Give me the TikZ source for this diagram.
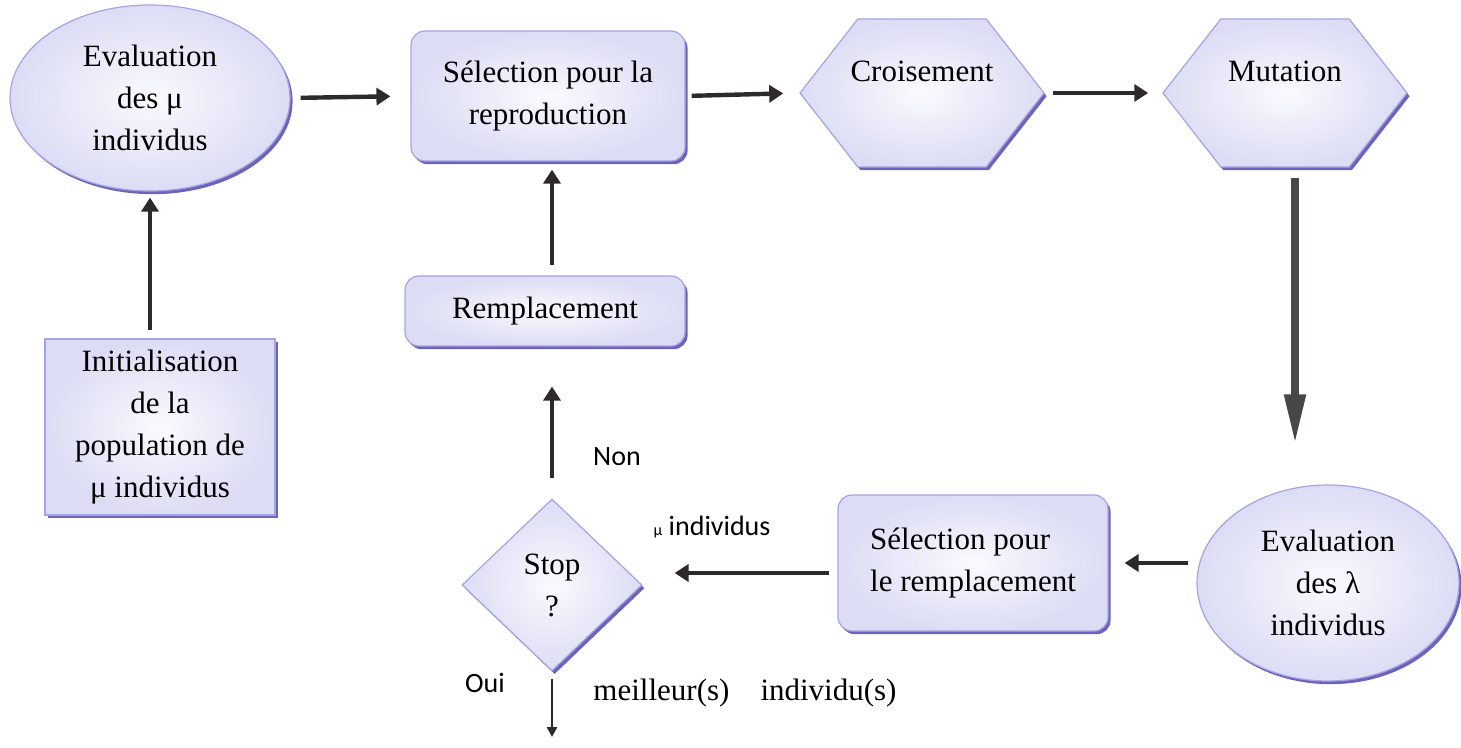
\documentclass[tikz,border=0pt]{standalone}
\usepackage{fontspec}
\setmainfont{Liberation Serif}
\newfontfamily\labelfont{Carlito}
\usetikzlibrary{arrows.meta,shapes.geometric,shapes.symbols,shadows}

\definecolor{fillin}{HTML}{FAFAFE}
\definecolor{fillout}{HTML}{DCDCF5}
\definecolor{edgeblue}{HTML}{A4A4E2}
\definecolor{shadowblue}{HTML}{6C64BC}
\definecolor{arrowgray}{HTML}{2E2A2C}
\definecolor{bigarrowgray}{HTML}{4A4548}

\newcommand{\boxfont}{\fontsize{15.5}{21}\selectfont}

\tikzset{
  boxtext/.style={font=\boxfont, align=center},
  labeltext/.style={font=\labelfont\fontsize{14}{16}\selectfont},
  base/.style={boxtext, draw=edgeblue, line width=0.6pt, inner sep=0pt,
    inner color=fillin, outer color=fillout,
    drop shadow={shadow xshift=1.3pt, shadow yshift=-1.6pt, fill=shadowblue, opacity=1}},
  oval/.style={base, ellipse},
  roundbox/.style={base, rectangle, rounded corners=7pt},
  squarebox/.style={base, rectangle},
  hexa/.style={base, signal, signal to=east and west, signal pointer angle=104,
    minimum width=122pt, minimum height=74pt,
    label={[boxtext, yshift=11pt]center:#1}},
  test/.style={base, diamond, aspect=1.04},
  flow/.style={draw=arrowgray, line width=2.2pt, -{Triangle[length=7pt, width=8.5pt]}},
  bigflow/.style={draw=bigarrowgray, line width=4pt,
    -{Triangle[length=25pt, width=10pt]}},
  thinflow/.style={draw=arrowgray, line width=1.4pt, -{Triangle[length=5pt, width=5pt]}}
}

\begin{document}
\begin{tikzpicture}[x=0.5pt, y=-0.5pt]
\useasboundingbox (0,0) rectangle (1461,748);

% les etapes
\node[oval, minimum width=140pt, minimum height=93pt] (eval1) at (150,98) {Evaluation\\des μ\\individus};
\node[roundbox, minimum width=137pt, minimum height=65pt] (selrep) at (548,96) {Sélection pour la\\reproduction};
\node[hexa=Croisement] (crois) at (922,93) {};
\node[hexa=Mutation] (mut) at (1285,93) {};
\node[oval, minimum width=131pt, minimum height=98pt] (eval2) at (1328,583) {Evaluation\\des λ\\individus};
\node[roundbox, minimum width=135pt, minimum height=68pt, align=left] (selremp) at (973,563) {Sélection pour\\le remplacement};
\node[test, minimum width=90pt, minimum height=86pt] (stop) at (552,585) {Stop\\?};
\node[roundbox, minimum width=140pt, minimum height=35pt] (rempl) at (545,311) {Remplacement};
\node[squarebox, minimum width=115pt, minimum height=88pt] (init) at (160,427) {Initialisation\\de la\\population de\\μ individus};

% textes libres
\node[labeltext] (non) at (617,457) {Non};
\node[labeltext] (muind) at (712,527) {{\fontsize{8}{8}\selectfont μ} individus};
\node[labeltext] (oui) at (485,683) {Oui};
\node[boxtext] (best) at (745,693) {meilleur(s)\quad individu(s)};
\coordinate (fin) at (552,737);

% fleches
\draw[flow, shorten <=5pt, shorten >=10pt] (eval1.east) -- (selrep.west);
\draw[flow, shorten <=3pt, shorten >=8pt] (selrep.east) -- (crois.west);
\draw[flow, shorten <=4pt, shorten >=7pt] (crois.east) -- (mut.west);
\draw[bigflow, shorten <=5pt, shorten >=20pt] ([xshift=5pt]mut.south) -- ([xshift=5pt]mut.south |- eval2.north);
\draw[flow, shorten <=4pt, shorten >=8pt] (eval2.west |- selremp.east) -- (selremp.east);
\draw[flow, shorten <=4pt, shorten >=16pt] ([yshift=-5pt]selremp.west) -- ([yshift=-5pt]selremp.west -| stop.east);
\draw[flow, shorten <=10pt, shorten >=20pt] (stop.north) -- (stop.north |- rempl.south);
\draw[flow, shorten <=5pt, shorten >=4pt] (rempl.north -| stop.north) -- (stop.north |- selrep.south);
\draw[flow, shorten <=4pt, shorten >=3pt] (init.north -| eval1.south) -- (eval1.south);
\draw[thinflow, shorten <=3.5pt] (stop.south) -- (fin);
\end{tikzpicture}
\end{document}
